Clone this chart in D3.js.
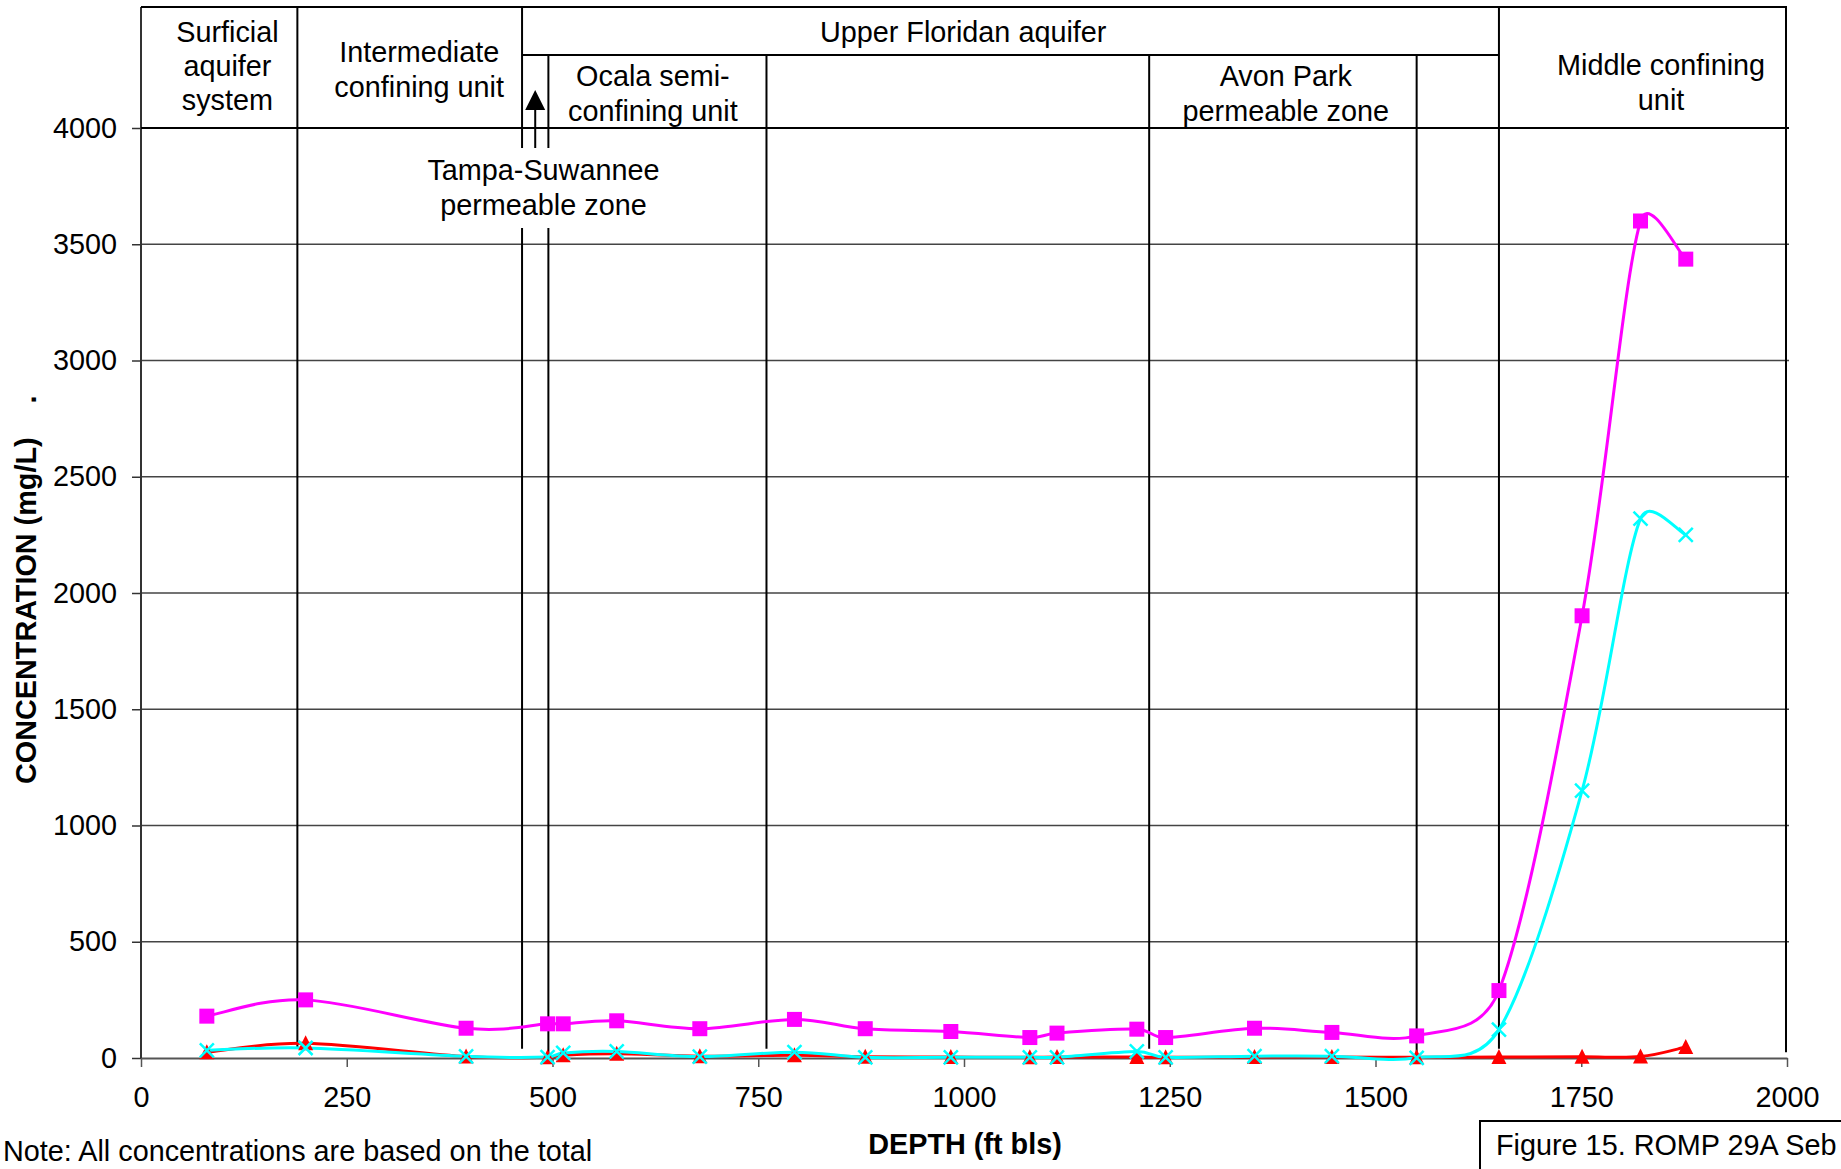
<!DOCTYPE html>
<html>
<head>
<meta charset="utf-8">
<script src="https://cdn.jsdelivr.net/npm/d3@7"></script>
<style>
  html, body { margin: 0; padding: 0; background: #fff; }
  svg { display: block; font-family: "Liberation Sans", Arial, sans-serif; }
</style>
</head>
<body>
<div id="chart"></div>
<script>
// sample depths (ft bls)
const depths = [80, 200, 395, 494, 513, 578, 679, 794, 880, 984, 1080, 1113, 1210, 1245, 1353, 1447, 1550, 1650, 1751, 1822, 1877];
// concentrations (mg/L)
const tds      = [180, 250, 128, 147, 147, 160, 126, 166, 126, 114, 88, 107, 124, 88, 128, 110, 95, 290, 1902, 3600, 3436];
const chloride = [33, 43, 7, 4, 22, 28, 6, 25, 3, 3, 3, 3, 28, 3, 8, 8, 1, 122, 1150, 2320, 2250];
const sulfate  = [25, 63, 6, 3, 12, 18, 8, 12, 5, 4, 3, 4, 4, 3, 4, 4, 3, 4, 5, 6, 47];

const xTicks = [0, 250, 500, 750, 1000, 1250, 1500, 1750, 2000];
const yTicks = [0, 500, 1000, 1500, 2000, 2500, 3000, 3500, 4000];

// hydrogeologic unit boundaries (ft bls)
const boundaryDepths = [190, 463, 495, 760, 1225, 1550, 1650];
const unitNames = [
  ["Surficial", "aquifer", "system"],
  ["Intermediate", "confining unit"],
  ["Upper Floridan aquifer"],
  ["Ocala semi-", "confining unit"],
  ["Avon Park", "permeable zone"],
  ["Middle confining", "unit"],
  ["Tampa-Suwannee", "permeable zone"]
];

const W = 1841, H = 1169;
const FS = "28.8px";
const svg = d3.select("#chart").append("svg")
  .attr("width", W)
  .attr("height", H);

const x = d3.scaleLinear().domain([0, 2000]).range([141, 1787]);
const y = d3.scaleLinear().domain([0, 4000]).range([1058, 128]);

const headerTop = 7;
const floridanLineY = 55;

// --- gridlines ---
svg.append("g")
  .selectAll("line")
  .data(yTicks.filter(d => d > 0 && d < 4000))
  .join("line")
  .attr("x1", x(0)).attr("x2", x(2000) + 2)
  .attr("y1", d => y(d)).attr("y2", d => y(d))
  .attr("stroke", "#444")
  .attr("stroke-width", 1.5);

// --- axes ---
const xAxis = svg.append("g")
  .attr("transform", `translate(0,${y(0)})`)
  .call(d3.axisBottom(x).tickValues(xTicks).tickFormat(d3.format("d"))
    .tickSize(9).tickPadding(20).tickSizeOuter(0));
xAxis.select(".domain").attr("stroke", "#555").attr("stroke-width", 2);
xAxis.selectAll(".tick line").attr("stroke", "#555").attr("stroke-width", 1.5);
xAxis.selectAll("text")
  .attr("font-size", FS)
  .attr("font-family", "'Liberation Sans', Arial, sans-serif")
  .attr("fill", "#000");

const yAxis = svg.append("g")
  .attr("transform", `translate(${x(0)},0)`)
  .call(d3.axisLeft(y).tickValues(yTicks).tickFormat(d3.format("d"))
    .tickSize(9).tickPadding(15).tickSizeOuter(0));
yAxis.select(".domain").remove();
yAxis.selectAll(".tick line").attr("stroke", "#333").attr("stroke-width", 1.5);
yAxis.selectAll("text")
  .attr("font-size", FS)
  .attr("font-family", "'Liberation Sans', Arial, sans-serif")
  .attr("fill", "#000");

// left axis line runs up to the header top
svg.append("line")
  .attr("x1", x(0)).attr("x2", x(0))
  .attr("y1", headerTop).attr("y2", y(0))
  .attr("stroke", "#333").attr("stroke-width", 2);

// --- header box ---
const hdr = svg.append("g").attr("stroke", "#000").attr("stroke-width", 2);
hdr.append("line")
  .attr("x1", x(0)).attr("x2", x(2000))
  .attr("y1", headerTop).attr("y2", headerTop);
hdr.append("line")
  .attr("x1", x(0)).attr("x2", x(2000) + 2)
  .attr("y1", y(4000)).attr("y2", y(4000));
hdr.append("line")
  .attr("x1", x(463)).attr("x2", x(1650))
  .attr("y1", floridanLineY).attr("y2", floridanLineY);
// right border of plot
hdr.append("line")
  .attr("x1", x(2000) - 1).attr("x2", x(2000) - 1)
  .attr("y1", headerTop).attr("y2", y(25));

// --- unit boundaries ---
const fromTop = new Set([190, 463, 1650]);
const toAxis = new Set([495, 1550]);
const gapTop = 148, gapBottom = 228;
const bnd = svg.append("g").attr("stroke", "#000").attr("stroke-width", 2);
boundaryDepths.forEach(dp => {
  const top = fromTop.has(dp) ? headerTop : floridanLineY;
  const bottom = toAxis.has(dp) ? y(0) : y(40);
  const bx = x(dp);
  if (dp === 463 || dp === 495) {
    bnd.append("line").attr("x1", bx).attr("x2", bx).attr("y1", top).attr("y2", gapTop);
    bnd.append("line").attr("x1", bx).attr("x2", bx).attr("y1", gapBottom).attr("y2", bottom);
  } else {
    bnd.append("line").attr("x1", bx).attr("x2", bx).attr("y1", top).attr("y2", bottom);
  }
});

// arrow pointing up to the Tampa-Suwannee zone
const ax = x(479);
svg.append("line")
  .attr("x1", ax).attr("x2", ax)
  .attr("y1", gapTop).attr("y2", 108)
  .attr("stroke", "#000").attr("stroke-width", 2);
svg.append("path")
  .attr("d", `M${ax},90 L${ax - 10},110 L${ax + 10},110 Z`)
  .attr("fill", "#000");

// --- unit labels ---
const labelLayout = [
  { cx: 105, y0: 42, dy: 34 },
  { cx: 338, y0: 62, dy: 35 },
  { cx: 999, y0: 42, dy: 35 },
  { cx: 622, y0: 86, dy: 35 },
  { cx: 1391, y0: 86, dy: 35 },
  { cx: 1847, y0: 75, dy: 35 },
  { cx: 489, y0: 180, dy: 35 }
];
unitNames.forEach((lines, i) => {
  const l = labelLayout[i];
  const t = svg.append("text")
    .attr("text-anchor", "middle")
    .attr("font-size", FS)
    .attr("fill", "#000");
  lines.forEach((s, j) => {
    t.append("tspan")
      .attr("x", x(l.cx))
      .attr("y", l.y0 + j * l.dy)
      .text(s);
  });
});

// --- series ---
// Excel-style smoothed line: bezier with tangents of 1/6 the neighbour chord,
// shortened so a handle never exceeds half of its own segment
function smoothPath(pts) {
  const p = d3.path();
  const n = pts.length;
  const clamp = (dx, dy, seg) => {
    const len = Math.hypot(dx, dy), max = seg * 0.5;
    return len > max ? [dx * max / len, dy * max / len] : [dx, dy];
  };
  p.moveTo(pts[0][0], pts[0][1]);
  for (let i = 0; i < n - 1; i++) {
    const p0 = pts[Math.max(i - 1, 0)], p1 = pts[i], p2 = pts[i + 1], p3 = pts[Math.min(i + 2, n - 1)];
    const seg = Math.hypot(p2[0] - p1[0], p2[1] - p1[1]);
    const t1 = clamp((p2[0] - p0[0]) / 6, (p2[1] - p0[1]) / 6, seg);
    const t2 = clamp((p3[0] - p1[0]) / 6, (p3[1] - p1[1]) / 6, seg);
    p.bezierCurveTo(p1[0] + t1[0], p1[1] + t1[1], p2[0] - t2[0], p2[1] - t2[1], p2[0], p2[1]);
  }
  return p.toString();
}

const series = [
  { values: tds, color: "#FF00FF", marker: "square" },
  { values: sulfate, color: "#FF0000", marker: "triangle" },
  { values: chloride, color: "#00FFFF", marker: "x" }
];

series.forEach(s => {
  const pts = depths.map((d, i) => [x(d), y(s.values[i])]);
  svg.append("path")
    .attr("d", smoothPath(pts))
    .attr("fill", "none")
    .attr("stroke", s.color)
    .attr("stroke-width", 3);
});

series.forEach(s => {
  const g = svg.append("g");
  depths.forEach((d, i) => {
    const px = x(d), py = y(s.values[i]);
    if (s.marker === "square") {
      g.append("rect")
        .attr("x", px - 7.5).attr("y", py - 7.5)
        .attr("width", 15).attr("height", 15)
        .attr("fill", s.color);
    } else if (s.marker === "triangle") {
      g.append("path")
        .attr("d", `M${px},${py - 8} L${px - 7.5},${py + 7} L${px + 7.5},${py + 7} Z`)
        .attr("fill", s.color);
    } else {
      g.append("path")
        .attr("d", `M${px - 7},${py - 7} L${px + 7},${py + 7} M${px - 7},${py + 7} L${px + 7},${py - 7}`)
        .attr("stroke", s.color)
        .attr("stroke-width", 2.5)
        .attr("fill", "none");
    }
  });
});

// --- axis titles ---
svg.append("text")
  .attr("x", 965)
  .attr("y", 1154)
  .attr("text-anchor", "middle")
  .attr("font-size", FS)
  .attr("font-weight", "bold")
  .text("DEPTH (ft bls)");

const yt = svg.append("text")
  .attr("transform", "translate(36,784) rotate(-90)")
  .attr("font-size", FS)
  .attr("font-weight", "bold");
yt.append("tspan").text("CONCENTRATION (mg/L)");
yt.append("tspan").attr("dx", 34).text(".");

// --- note and caption ---
svg.append("text")
  .attr("x", 3)
  .attr("y", 1161)
  .attr("font-size", FS)
  .text("Note: All concentrations are based on the total");

svg.append("rect")
  .attr("x", 1480).attr("y", 1121)
  .attr("width", 400).attr("height", 80)
  .attr("fill", "none")
  .attr("stroke", "#000")
  .attr("stroke-width", 2);

svg.append("text")
  .attr("x", 1496)
  .attr("y", 1155)
  .attr("font-size", FS)
  .text("Figure 15. ROMP 29A Seb");
</script>
</body>
</html>
